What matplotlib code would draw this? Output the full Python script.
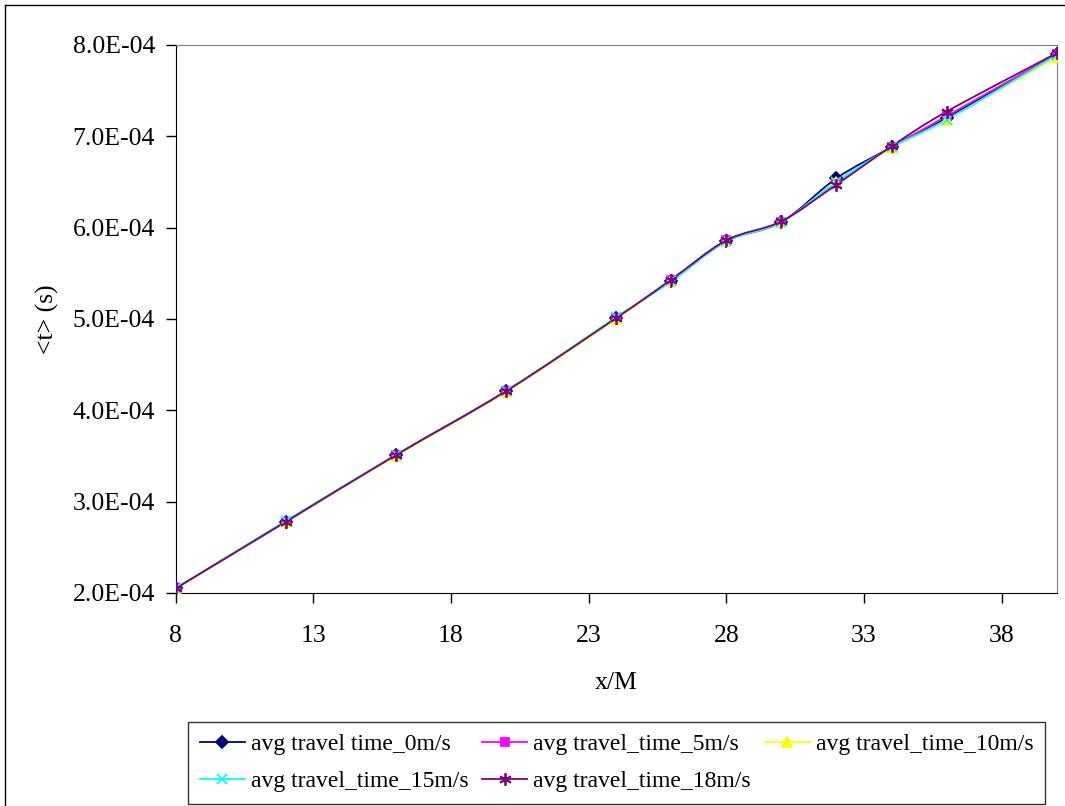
import matplotlib
matplotlib.use("Agg")
import matplotlib.pyplot as plt
from matplotlib.path import Path
from matplotlib.patches import PathPatch
from matplotlib.lines import Line2D
from matplotlib.ticker import FuncFormatter

plt.rcParams['font.family'] = ['Liberation Serif', 'DejaVu Serif']

# distanza x/M e tempi medi di percorrenza (in unita' di 1E-04 s)
x_m = [8, 12, 16, 20, 24, 26, 28, 30, 32, 34, 36, 40]
t_0 = [2.05, 2.78, 3.51, 4.21, 5.01, 5.42, 5.85, 6.06, 6.54, 6.88, 7.20, 7.90]
t_5 = [2.05, 2.78, 3.51, 4.21, 5.01, 5.43, 5.86, 6.06, 6.49, 6.88, 7.22, 7.90]
t_10 = [2.04, 2.78, 3.50, 4.20, 5.00, 5.42, 5.85, 6.06, 6.50, 6.87, 7.18, 7.87]
t_15 = [2.05, 2.79, 3.51, 4.21, 5.02, 5.41, 5.85, 6.06, 6.50, 6.88, 7.18, 7.89]
t_18 = [2.05, 2.78, 3.51, 4.21, 5.01, 5.43, 5.86, 6.07, 6.47, 6.89, 7.27, 7.91]

labels = ['avg travel time_0m/s', 'avg travel_time_5m/s', 'avg travel_time_10m/s',
          'avg travel_time_15m/s', 'avg travel_time_18m/s']
colors = ['#000080', '#FF00FF', '#FFFF00', '#00FFFF', '#800080']
markers = ['D', 's', '^', 'x', (6, 2, 0)]
msizes = [6, 6, 7, 7, 9]


def smooth_path(xs, ys):
    # linea "smussata" tipo Excel: Catmull-Rom convertita in curve di Bezier
    pts = list(zip(xs, ys))
    verts = [pts[0]]
    codes = [Path.MOVETO]
    n = len(pts)
    for i in range(n - 1):
        p0 = pts[max(i - 1, 0)]
        p1 = pts[i]
        p2 = pts[i + 1]
        p3 = pts[min(i + 2, n - 1)]
        c1 = (p1[0] + (p2[0] - p0[0]) / 6, p1[1] + (p2[1] - p0[1]) / 6)
        c2 = (p2[0] - (p3[0] - p1[0]) / 6, p2[1] - (p3[1] - p1[1]) / 6)
        verts += [c1, c2, p2]
        codes += [Path.CURVE4] * 3
    return Path(verts, codes)


fig = plt.figure(figsize=(10.65, 8.06), dpi=100)
ax = fig.add_axes([0.165, 0.2643, 0.8272, 0.68])

series = [t_0, t_5, t_10, t_15, t_18]
for t, c, m, ms in zip(series, colors, markers, msizes):
    ys = [v * 1e-4 for v in t]
    ax.add_patch(PathPatch(smooth_path(x_m, ys), fill=False, edgecolor=c, lw=1.3, zorder=2))
    ax.plot(x_m, ys, ls='none', marker=m, color=c, mec=c, ms=ms, mew=1.3, zorder=3)

ax.set_xlim(8, 40)
ax.set_ylim(2e-4, 8e-4)
ax.set_xticks([8, 13, 18, 23, 28, 33, 38])
ax.set_yticks([2e-4, 3e-4, 4e-4, 5e-4, 6e-4, 7e-4, 8e-4])
ax.yaxis.set_major_formatter(FuncFormatter(lambda v, p: '%.1E' % v))
ax.tick_params(direction='out', length=7, width=1, labelsize=18.5)
ax.tick_params(axis='x', pad=16)
ax.tick_params(axis='y', pad=8)

for s in ['top', 'right']:
    ax.spines[s].set_color('#808080')
for s in ['left', 'bottom']:
    ax.spines[s].set_color('black')

ax.set_xlabel('x/M', fontsize=18.5)
ax.set_ylabel('<t> (s)', fontsize=18.5)
ax.xaxis.set_label_coords(0.5, -0.145)
ax.yaxis.set_label_coords(-0.133, 0.5)

# legenda riempita per righe: riordino per colonne (ncol=3, 2 righe)
handles = [Line2D([], [], color=c, marker=m, ms=ms, mew=1.3, lw=1.3)
           for c, m, ms in zip(colors, markers, msizes)]
order = [0, 3, 1, 4, 2]
leg = fig.legend([handles[i] for i in order], [labels[i] for i in order],
                 ncol=3, loc='upper left', bbox_to_anchor=(188 / 1065, 1 - 722 / 806),
                 fontsize=17, frameon=True, fancybox=False, edgecolor='black',
                 handlelength=1.9, handletextpad=0.25, columnspacing=0.6,
                 borderpad=0.5, labelspacing=0.65, borderaxespad=0)
leg.get_frame().set_linewidth(1.0)

# bordo esterno (solo lati alto e sinistra)
fig.add_artist(Line2D([5 / 1065, 5 / 1065], [0, 1 - 5 / 806], color='black', lw=1.0,
                      transform=fig.transFigure))
fig.add_artist(Line2D([5 / 1065, 1], [1 - 5 / 806, 1 - 5 / 806], color='black', lw=1.0,
                      transform=fig.transFigure))

fig.savefig('out.png', dpi=100)
